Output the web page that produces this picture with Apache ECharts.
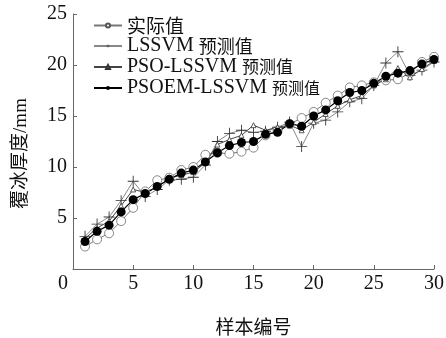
<!DOCTYPE html>
<html><head><meta charset="utf-8">
<script src="https://cdn.jsdelivr.net/npm/echarts@6/dist/echarts.min.js"></script>
<style>html,body{margin:0;padding:0;background:#fff}#c{width:446px;height:338px}</style>
</head><body><div id="c"></div>
<script>
const samples = Array.from({length:30},(_,i)=>i+1);
const actual = [2.2, 2.9, 3.5, 4.7, 6.0, 7.6, 8.7, 8.95, 9.7, 10.0, 11.2, 11.4, 11.3, 11.5, 11.9, 13.1, 13.6, 14.2, 14.8, 15.4, 16.3, 17.0, 17.8, 18.0, 18.3, 18.5, 18.6, 19.2, 20.3, 20.8];
const lssvm = [3.2, 4.4, 5.1, 6.7, 8.6, 7.1, 7.8, 8.7, 8.8, 9.0, 10.2, 12.5, 13.3, 13.6, 13.4, 13.5, 13.9, 14.4, 12.0, 14.3, 14.6, 15.4, 16.4, 16.7, 18.0, 20.2, 21.3, 19.0, 19.5, 20.3];
const pso = [3.0, 4.0, 4.7, 6.2, 7.8, 7.5, 8.0, 8.9, 9.2, 9.5, 10.4, 12.2, 12.7, 13.1, 14.1, 13.6, 13.9, 14.1, 13.6, 14.4, 15.2, 16.0, 16.6, 17.0, 18.0, 18.6, 19.7, 18.8, 19.6, 20.4];
const psoem = [2.7, 3.7, 4.3, 5.6, 6.8, 7.4, 8.1, 8.8, 9.4, 9.7, 10.5, 11.4, 12.1, 12.4, 12.5, 13.2, 13.4, 14.25, 14.0, 15.0, 15.6, 16.5, 17.3, 17.5, 18.2, 18.9, 19.2, 19.45, 20.1, 20.55];
const names = ['实际值','LSSVM 预测值','PSO-LSSVM 预测值','PSOEM-LSSVM 预测值'];
const zip = a => samples.map((x,i)=>[x,a[i]]);
const FONT = '"Liberation Serif","Noto Sans CJK SC",serif';
const CJK = '"Noto Sans CJK SC",sans-serif';
const plus = 'path://M-0.08,-1h0.16v0.92h0.92v0.16h-0.92v0.92h-0.16v-0.92h-0.92v-0.16h0.92z';
const legendRich = {
  l:{fontFamily:FONT,fontSize:20,color:'#111'},
  c0:{fontFamily:CJK,fontSize:19,color:'#111'},
  c1:{fontFamily:CJK,fontSize:18,color:'#111'},
  c2:{fontFamily:CJK,fontSize:17,color:'#111'},
  c3:{fontFamily:CJK,fontSize:16,color:'#111'}
};
function legendFmt(n){
  const k = names.indexOf(n);
  const parts = n.split(' ');
  if (parts.length===1) return '{c'+k+'|'+n+'}';
  return '{l|'+parts[0]+' }{c'+k+'|'+parts[1]+'}';
}
const chart = echarts.init(document.getElementById('c'));
chart.setOption({
  animation:false,
  textStyle:{fontFamily:FONT},
  grid:{left:73,right:12,top:14,bottom:69,outerBoundsMode:'none',containLabel:false},
  legend:{orient:'vertical',left:88,top:11,itemWidth:28,itemHeight:5,itemGap:1,
    formatter:legendFmt,
    textStyle:{fontFamily:FONT,fontSize:20,color:'#111',rich:legendRich},
    data:names},
  xAxis:{type:'value',min:0,max:30,interval:5,
    name:'样本编号',nameLocation:'middle',nameGap:48,
    nameTextStyle:{fontFamily:CJK,fontSize:19,color:'#111'},
    axisLine:{lineStyle:{color:'#666',width:1}},
    axisTick:{inside:true,length:4,lineStyle:{color:'#666'}},
    axisLabel:{fontFamily:FONT,fontSize:20,color:'#111',margin:5,
      formatter:v=>v===0?'{z|0}':String(v),
      rich:{z:{fontFamily:FONT,fontSize:20,color:'#111',padding:[0,20,0,0]}}},
    splitLine:{show:false}},
  yAxis:{type:'value',min:0,max:25,interval:5,
    name:'覆冰厚度/mm',nameLocation:'middle',nameGap:42,
    nameTextStyle:{fontFamily:FONT,fontSize:19,color:'#111',padding:[0,24,0,0]},
    axisLine:{show:true,lineStyle:{color:'#666',width:1}},
    axisTick:{show:true,inside:true,length:4,lineStyle:{color:'#666'}},
    axisLabel:{fontFamily:FONT,fontSize:20,color:'#111',margin:6,showMinLabel:false},
    splitLine:{show:false}},
  series:[
    {name:names[0],type:'line',data:zip(actual),symbol:'circle',symbolSize:9,
      lineStyle:{color:'#777',width:1},itemStyle:{color:'#fff',borderColor:'#555',borderWidth:0.7}},
    {name:names[1],type:'line',data:zip(lssvm),symbol:plus,symbolSize:11,
      lineStyle:{color:'#888',width:1},itemStyle:{color:'#333'}},
    {name:names[2],type:'line',data:zip(pso),symbol:'triangle',symbolSize:5,
      lineStyle:{color:'#444',width:1},itemStyle:{color:'#fff',borderColor:'#333',borderWidth:0.8}},
    {name:names[3],type:'line',data:zip(psoem),symbol:'circle',symbolSize:9,
      lineStyle:{color:'#000',width:1.2},itemStyle:{color:'#000'}}
  ]
});
</script></body></html>
